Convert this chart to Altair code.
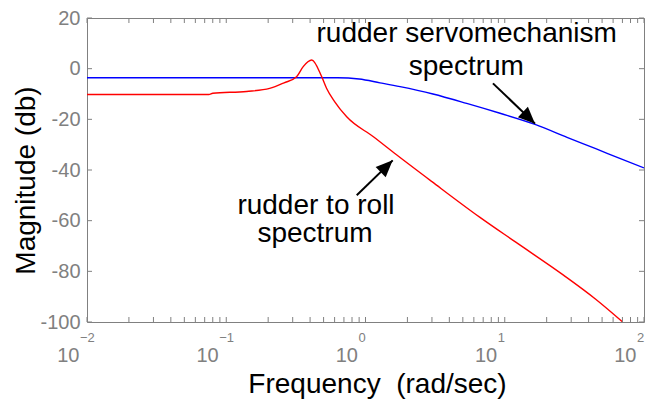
import altair as alt
import pandas as pd

# ---- data ----
blue_freq = [0.01, 0.1, 0.3, 0.63, 0.9, 1.27, 1.77, 3.05, 5.33, 9.25, 16.5, 28.0, 45.0, 67.0, 100.0]
blue_db = [-3.6, -3.6, -3.6, -3.6, -4.1, -5.6, -7.1, -10.0, -13.7, -17.6, -22.0, -27.1, -31.6, -35.4, -39.2]

red_freq = [0.01, 0.075, 0.08, 0.14, 0.205, 0.26, 0.32, 0.357, 0.411, 0.485, 0.526, 0.6,
            0.733, 1.14, 1.67, 3.0, 6.64, 12.0, 26.4, 45.0, 70.3]
red_db = [-10.2, -10.2, -9.7, -9.0, -7.8, -5.6, -3.2, 0.8, 3.4, -3.2, -7.8, -13.0,
          -19.0, -26.9, -34.0, -44.6, -58.7, -68.5, -81.5, -91.0, -100.0]

y_ticks = [-100, -80, -60, -40, -20, 0, 20]
x_major = [0.01, 0.1, 1, 10, 100]
x_exponents = ["\u22122", "\u22121", "0", "1", "2"]
x_minor = [m * 10.0 ** e for e in (-2, -1, 0, 1) for m in range(2, 10)]

ann_text = ["rudder servomechanism", "spectrum", "rudder to roll", "spectrum"]
ann_x = [5.33, 5.3, 0.441, 0.434]
ann_y = [10.4, -2.45, -57.5, -68.4]

arrow_x = [8.23, 0.865]
arrow_y = [-5.8, -50.0]
arrow_x2 = [16.5, 1.568]
arrow_y2 = [-21.7, -36.2]
arrow_angle = [133.8, 45.8]

GRAY = "#808080"
FONT = "Liberation Sans"
X_LO, X_HI = 0.01, 100
Y_LO, Y_HI = -100, 20

lines_df = pd.DataFrame({
    "f": blue_freq + red_freq,
    "db": blue_db + red_db,
    "series": ["servo"] * len(blue_freq) + ["roll"] * len(red_freq),
})

xscale = alt.Scale(type="log", domain=[X_LO, X_HI], nice=False)
yscale = alt.Scale(domain=[Y_LO, Y_HI], nice=False, zero=False)

x_axis = alt.Axis(
    values=x_major, labelExpr="'10'", labelAlign="right", labelOffset=-8,
    labelBaseline="alphabetic", labelPadding=39, tickSize=0, domain=False, grid=False,
    labelFont=FONT, labelFontSize=20, labelColor=GRAY, labelFlush=False, labelOverlap=False,
    title="Frequency\u00a0\u00a0(rad/sec)", titleFont=FONT, titleFontSize=28,
    titleFontWeight="normal", titleColor="black", titleX=290, titleY=70,
    titleAlign="center", titleBaseline="alphabetic",
)
y_axis = alt.Axis(
    values=y_ticks, labelExpr="'' + datum.value", tickSize=0, labelPadding=7,
    domain=False, grid=False, labelFont=FONT, labelFontSize=20, labelColor=GRAY,
    labelFlush=False, labelOverlap=False,
    title="Magnitude (db)", titleFont=FONT, titleFontSize=28, titleFontWeight="normal",
    titleColor="black", titleX=-53, titleY=162, titleAngle=270,
    titleAlign="center", titleBaseline="alphabetic",
)


def X(field):
    return alt.X(field, scale=xscale, axis=x_axis)


def Y(field):
    return alt.Y(field, scale=yscale, axis=y_axis)


lines = alt.Chart(lines_df).mark_line(strokeWidth=1.4, clip=True, interpolate="monotone").encode(
    x=X("f:Q"), y=Y("db:Q"),
    color=alt.Color("series:N", scale=alt.Scale(domain=["servo", "roll"],
                                                 range=["#0000ff", "#ff0000"]), legend=None),
    order=alt.Order("f:Q"),
)

xt = x_major + x_minor
xt_df = pd.DataFrame({"f": xt, "lo": [Y_LO] * len(xt), "hi": [Y_HI] * len(xt)})
yt_df = pd.DataFrame({"db": y_ticks, "lo": [X_LO] * len(y_ticks), "hi": [X_HI] * len(y_ticks)})

tick_bottom = alt.Chart(xt_df).mark_rule(color=GRAY, strokeWidth=1, y2Offset=-5).encode(
    x=X("f:Q"), y=Y("lo:Q"), y2="lo:Q")
tick_top = alt.Chart(xt_df).mark_rule(color=GRAY, strokeWidth=1, y2Offset=5).encode(
    x=X("f:Q"), y=Y("hi:Q"), y2="hi:Q")
tick_left = alt.Chart(yt_df).mark_rule(color=GRAY, strokeWidth=1, x2Offset=5).encode(
    y=Y("db:Q"), x=X("lo:Q"), x2="lo:Q")
tick_right = alt.Chart(yt_df).mark_rule(color=GRAY, strokeWidth=1, x2Offset=-5).encode(
    y=Y("db:Q"), x=X("hi:Q"), x2="hi:Q")

exp_df = pd.DataFrame({"f": x_major, "e": x_exponents, "y": [Y_LO] * len(x_major)})
exps = alt.Chart(exp_df).mark_text(
    align="left", baseline="alphabetic", dx=-7, dy=20, fontSize=13, font=FONT, color=GRAY
).encode(x=X("f:Q"), y=Y("y:Q"), text="e:N")

ann_df = pd.DataFrame({"t": ann_text, "f": ann_x, "db": ann_y})
anns = alt.Chart(ann_df).mark_text(
    align="center", baseline="alphabetic", fontSize=28, font=FONT, color="black"
).encode(x=X("f:Q"), y=Y("db:Q"), text="t:N")

arr_df = pd.DataFrame({"f": arrow_x, "db": arrow_y, "f2": arrow_x2, "db2": arrow_y2,
                       "ang": arrow_angle})
arr_lines = alt.Chart(arr_df).mark_rule(color="black", strokeWidth=2).encode(
    x=X("f:Q"), y=Y("db:Q"), x2="f2:Q", y2="db2:Q")
arr_heads = alt.Chart(arr_df).mark_point(
    shape="M0,0L0.9,2.1L-0.9,2.1Z", filled=True, color="black", opacity=1, size=256
).encode(x=X("f2:Q"), y=Y("db2:Q"), angle=alt.Angle("ang:Q", scale=None))

chart = alt.layer(
    lines, tick_bottom, tick_top, tick_left, tick_right, exps, anns, arr_lines, arr_heads
).properties(
    width=557, height=304,
    autosize=alt.AutoSizeParams(type="none"),
    padding={"left": 87, "top": 18, "right": 5, "bottom": 84},
    background="white",
).configure_view(stroke=GRAY, strokeWidth=1)

chart.save("out.html", embed_options={"renderer": "svg", "actions": False})
